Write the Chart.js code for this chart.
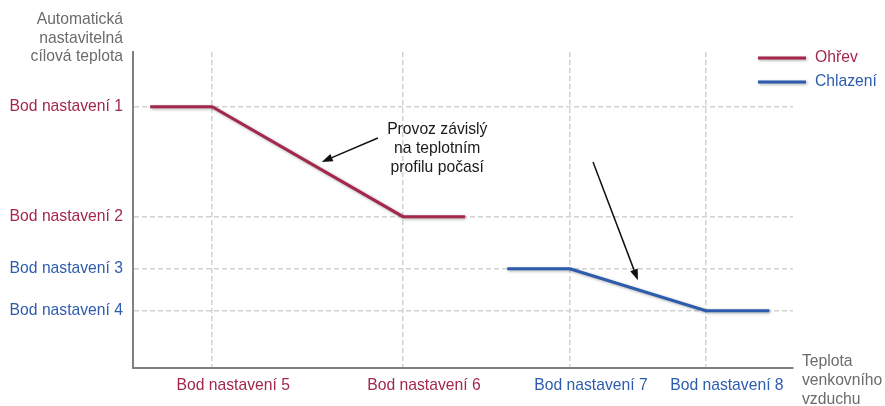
<!DOCTYPE html>
<html lang="cs">
<head>
<meta charset="utf-8" />
<title>Automatická nastavitelná cílová teplota</title>
<script src="https://cdn.jsdelivr.net/npm/chart.js@4/dist/chart.umd.min.js"></script>
<style>
  html, body { margin: 0; padding: 0; background: #fff; }
  #wrap { width: 885px; height: 406px; position: relative; }
</style>
</head>
<body>
<div id="wrap"><canvas id="chart"></canvas></div>
<script>
// setpoints on both axes (schematic units 0..100)
const ySetpoints = [82.7, 47.9, 31.4, 18.1];
const yLabels = ["Bod nastavení 1", "Bod nastavení 2", "Bod nastavení 3", "Bod nastavení 4"];
const ySide = ["heat", "heat", "cool", "cool"];

const xSetpoints = [12, 40.9, 66.2, 86.8];
const xLabels = ["Bod nastavení 5", "Bod nastavení 6", "Bod nastavení 7", "Bod nastavení 8"];
const xSide = ["heat", "heat", "cool", "cool"];

// heating curve
const heatX = [2.6, 12, 40.9, 50.3];
const heatY = [82.7, 82.7, 47.9, 47.9];
// cooling curve
const coolX = [56.7, 66.2, 86.8, 96.4];
const coolY = [31.4, 31.4, 18.1, 18.1];

const seriesNames = ["Ohřev", "Chlazení"];
const yTitle = ["Automatická", "nastavitelná", "cílová teplota"];
const xTitle = ["Teplota", "venkovního", "vzduchu"];
const noteLines = ["Provoz závislý", "na teplotním", "profilu počasí"];
// arrows: [fromX, fromY, toX, toY] in data units
const arrows = [
  [37.1, 72.8, 28.6, 65.2],
  [69.7, 65.2, 76.5, 27.8]
];

const RED = "#a3284b";
const BLUE = "#2d5cae";
const GRID = "#d2d2d2";
const FONT = "'Liberation Sans', Arial, sans-serif";
const SIZE = 15.7;

const colorOf = (side) => (side === "heat" ? RED : BLUE);
const toPoints = (xs, ys) => xs.map((x, i) => ({ x: x, y: ys[i] }));

const extras = {
  id: "extras",
  beforeDatasetsDraw(chart) {
    const ctx = chart.ctx;
    ctx.save();
    ctx.shadowColor = "rgba(0,0,0,0.35)";
    ctx.shadowBlur = 3;
    ctx.shadowOffsetX = 1;
    ctx.shadowOffsetY = 1;
  },
  afterDatasetsDraw(chart) {
    chart.ctx.restore();
  },
  afterDraw(chart) {
    const ctx = chart.ctx;
    const xs = chart.scales.x, ys = chart.scales.y;
    const area = chart.chartArea;
    ctx.save();
    ctx.font = SIZE + "px " + FONT;
    ctx.textBaseline = "middle";

    // axis titles
    ctx.fillStyle = "#6b6b6b";
    ctx.textAlign = "right";
    yTitle.forEach((t, i) => ctx.fillText(t, area.left - 10, 20 + i * 18.5));
    ctx.textAlign = "left";
    xTitle.forEach((t, i) => ctx.fillText(t, area.right + 9, area.bottom - 6 + i * 19));

    // legend
    chart.data.datasets.forEach((ds, i) => {
      const y = 58 + i * 24;
      ctx.save();
      ctx.shadowColor = "rgba(0,0,0,0.35)";
      ctx.shadowBlur = 3;
      ctx.shadowOffsetX = 1;
      ctx.shadowOffsetY = 1;
      ctx.strokeStyle = ds.borderColor;
      ctx.lineWidth = 3;
      ctx.beginPath();
      ctx.moveTo(758, y);
      ctx.lineTo(806, y);
      ctx.stroke();
      ctx.restore();
      ctx.fillStyle = ds.borderColor;
      ctx.fillText(ds.label, 815, y);
    });

    // note text
    ctx.fillStyle = "#1a1a1a";
    ctx.textAlign = "center";
    const nx = xs.getPixelForValue(46.1);
    noteLines.forEach((t, i) => ctx.fillText(t, nx, 130 + i * 19));

    // arrows
    ctx.strokeStyle = "#111";
    ctx.fillStyle = "#111";
    ctx.lineWidth = 1.5;
    arrows.forEach(([x0, y0, x1, y1]) => {
      const ax = xs.getPixelForValue(x0), ay = ys.getPixelForValue(y0);
      const bx = xs.getPixelForValue(x1), by = ys.getPixelForValue(y1);
      const ang = Math.atan2(by - ay, bx - ax);
      const head = 11, half = 4;
      const hx = bx - head * Math.cos(ang), hy = by - head * Math.sin(ang);
      ctx.beginPath();
      ctx.moveTo(ax, ay);
      ctx.lineTo(hx, hy);
      ctx.stroke();
      ctx.beginPath();
      ctx.moveTo(bx, by);
      ctx.lineTo(hx + half * Math.sin(ang), hy - half * Math.cos(ang));
      ctx.lineTo(hx - half * Math.sin(ang), hy + half * Math.cos(ang));
      ctx.closePath();
      ctx.fill();
    });
    ctx.restore();
  }
};

new Chart(document.getElementById("chart"), {
  type: "line",
  data: {
    datasets: [
      { label: seriesNames[0], data: toPoints(heatX, heatY), borderColor: RED },
      { label: seriesNames[1], data: toPoints(coolX, coolY), borderColor: BLUE }
    ]
  },
  options: {
    responsive: true,
    maintainAspectRatio: false,
    animation: false,
    layout: { padding: { top: 52, right: 92, left: 0, bottom: 0 } },
    elements: {
      line: { borderWidth: 3, tension: 0, borderCapStyle: "butt", borderJoinStyle: "miter" },
      point: { radius: 0 }
    },
    plugins: { legend: { display: false }, tooltip: { enabled: false } },
    scales: {
      x: {
        type: "linear",
        min: 0,
        max: 100,
        afterBuildTicks: (s) => { s.ticks = xSetpoints.map((v) => ({ value: v })); },
        afterFit: (s) => { s.height = 38; },
        grid: { color: GRID, lineWidth: 1.5, drawTicks: false },
        border: { color: "#808080", width: 2, dash: [5, 3] },
        ticks: {
          padding: 8,
          labelOffset: 21,
          autoSkip: false,
          maxRotation: 0,
          font: { family: FONT, size: SIZE },
          color: (c) => colorOf(xSide[xSetpoints.indexOf(c.tick.value)]),
          callback: (v) => xLabels[xSetpoints.indexOf(v)]
        }
      },
      y: {
        type: "linear",
        min: 0,
        max: 100,
        afterBuildTicks: (s) => { s.ticks = ySetpoints.slice().sort((a, b) => a - b).map((v) => ({ value: v })); },
        afterFit: (s) => { s.width = 133; },
        grid: { color: GRID, lineWidth: 1.5, drawTicks: false },
        border: { color: "#808080", width: 2, dash: [5, 3] },
        ticks: {
          padding: 10,
          autoSkip: false,
          font: { family: FONT, size: SIZE },
          color: (c) => colorOf(ySide[ySetpoints.indexOf(c.tick.value)]),
          callback: (v) => yLabels[ySetpoints.indexOf(v)]
        }
      }
    }
  },
  plugins: [extras]
});
</script>
</body>
</html>
